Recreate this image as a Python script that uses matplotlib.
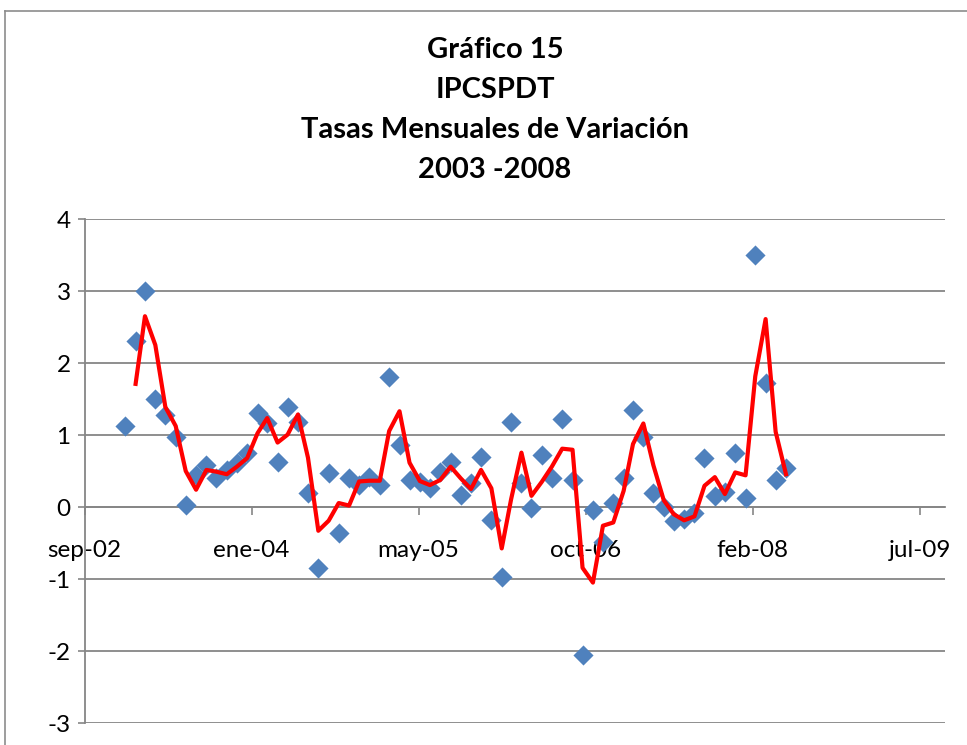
import datetime as dt

import numpy as np
import pandas as pd
import matplotlib
matplotlib.use("Agg")
from matplotlib import pyplot as plt
from matplotlib.lines import Line2D
from matplotlib.ticker import FuncFormatter

plt.rcParams["font.family"] = ["Lato", "DejaVu Sans"]
plt.rcParams["axes.unicode_minus"] = False

# monthly rates of change, jan-2003 .. jun-2008
months = pd.date_range("2003-01-01", periods=66, freq="MS")
tasas = [
    1.12, 2.30, 3.00, 1.50, 1.28, 0.97, 0.03, 0.45, 0.58, 0.40, 0.51, 0.61,
    0.75, 1.30, 1.17, 0.62, 1.39, 1.18, 0.19, -0.85, 0.47, -0.36, 0.40, 0.31,
    0.42, 0.31, 1.80, 0.86, 0.37, 0.35, 0.26, 0.49, 0.63, 0.17, 0.33, 0.70,
    -0.18, -0.97, 1.18, 0.33, -0.02, 0.72, 0.40, 1.22, 0.37, -2.06, -0.04, -0.48,
    0.05, 0.40, 1.35, 0.97, 0.19, 0.00, -0.20, -0.17, -0.09, 0.68, 0.15, 0.21,
    0.75, 0.13, 3.50, 1.72, 0.37, 0.54,
]
title_lines = ["Gráfico 15", "IPCSPDT", "Tasas Mensuales de Variación", "2003 -2008"]
meses_es = ["ene", "feb", "mar", "abr", "may", "jun",
            "jul", "ago", "sep", "oct", "nov", "dic"]

# Excel serial dates for the axis (value axis, major unit 500 days)
excel_epoch = dt.datetime(1899, 12, 30)
x_serial = np.array([(m.to_pydatetime() - excel_epoch).days for m in months])
x_ticks = np.arange(37500, 40001, 500)

# 2-period moving average trendline
media_movil = pd.Series(tasas).rolling(2).mean()


def fmt_fecha(val, pos):
    d = excel_epoch + dt.timedelta(days=float(val))
    return f"{meses_es[d.month - 1]}-{d.year % 100:02d}"


fig = plt.figure(figsize=(9.67, 7.45), dpi=100)
ax = fig.add_axes([84.5 / 967, 1 - 723 / 745, (945 - 84.5) / 967, (723 - 219) / 745])

grid_c = "#868686"
ax.scatter(x_serial, tasas, marker="D", s=105, color="#4F81BD", linewidths=0, zorder=3)
ax.plot(x_serial, media_movil, color="red", lw=3.0, zorder=4)

ax.set_xlim(37500, 40076)
ax.set_ylim(-3, 4)
ax.set_xticks(x_ticks)
ax.xaxis.set_major_formatter(FuncFormatter(fmt_fecha))
ax.set_yticks(np.arange(-3, 5, 1))

ax.grid(axis="y", color=grid_c, lw=1.3)
ax.set_axisbelow(True)
for side in ["top", "right"]:
    ax.spines[side].set_visible(False)
ax.spines["bottom"].set_position(("data", 0))
ax.spines["bottom"].set_color(grid_c)
ax.spines["bottom"].set_linewidth(1.3)
ax.spines["left"].set_color(grid_c)
ax.spines["left"].set_linewidth(1.3)

ax.tick_params(axis="x", direction="out", length=6, width=1.2, color=grid_c,
               labelsize=17.5, pad=18)
ax.tick_params(axis="y", direction="out", length=5, width=1.2, color=grid_c,
               labelsize=17.5, pad=5)

for i, line in enumerate(title_lines):
    fig.text(495 / 967, 1 - (50 + 40 * i) / 745, line, ha="center", va="center",
             fontsize=21, fontweight="bold")

# chart area border (partly cropped)
fig.add_artist(Line2D([5 / 967, 5 / 967], [0, 1 - 11 / 745], color="#8c8c8c", lw=1.2))
fig.add_artist(Line2D([5 / 967, 1], [1 - 11 / 745, 1 - 11 / 745], color="#8c8c8c", lw=1.2))

fig.savefig("out.png", dpi=100)
